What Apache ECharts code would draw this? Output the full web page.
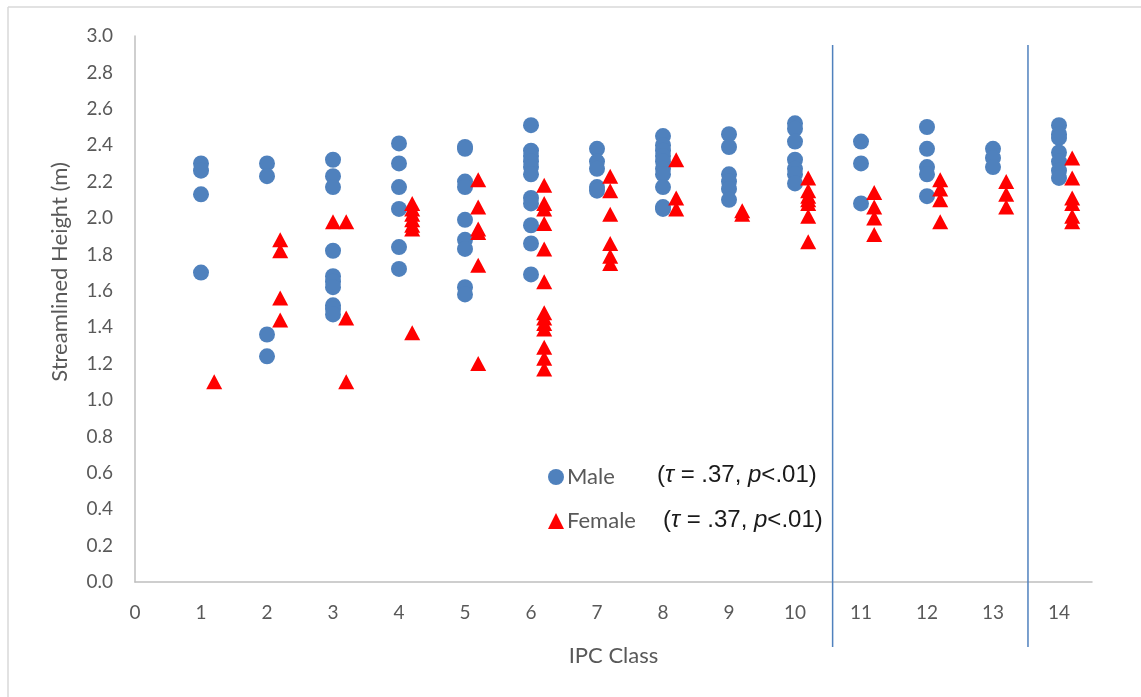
<!DOCTYPE html>
<html>
<head>
<meta charset="utf-8">
<script src="https://cdn.jsdelivr.net/npm/echarts@6/dist/echarts.min.js"></script>
<style>
html,body{margin:0;padding:0;background:#fff;}
#chart{width:1141px;height:697px;}
</style>
</head>
<body>
<div id="chart"></div>
<script>
// ---- data ----
const classes = [1,2,3,4,5,6,7,8,9,10,11,12,13,14];
const maleHeights = [
  [2.30, 2.26, 2.13, 1.70],
  [2.30, 2.23, 1.36, 1.24],
  [2.32, 2.23, 2.17, 1.82, 1.68, 1.65, 1.62, 1.52, 1.50, 1.47],
  [2.41, 2.30, 2.17, 2.05, 1.84, 1.72],
  [2.39, 2.38, 2.20, 2.17, 1.99, 1.88, 1.83, 1.62, 1.58],
  [2.51, 2.37, 2.34, 2.31, 2.28, 2.24, 2.11, 2.08, 1.96, 1.86, 1.69],
  [2.38, 2.31, 2.27, 2.17, 2.15],
  [2.45, 2.40, 2.37, 2.34, 2.31, 2.27, 2.24, 2.17, 2.06, 2.05],
  [2.46, 2.39, 2.24, 2.20, 2.16, 2.10],
  [2.52, 2.49, 2.42, 2.32, 2.27, 2.24, 2.19],
  [2.42, 2.30, 2.08],
  [2.50, 2.38, 2.28, 2.24, 2.12],
  [2.38, 2.33, 2.28],
  [2.51, 2.46, 2.44, 2.36, 2.31, 2.26, 2.22]
];
const femaleHeights = [
  [1.10],
  [1.88, 1.82, 1.56, 1.44],
  [1.98, 1.45, 1.10],
  [2.08, 2.05, 2.02, 1.99, 1.96, 1.94, 1.37],
  [2.21, 2.06, 1.94, 1.92, 1.74, 1.20],
  [2.18, 2.08, 2.05, 1.97, 1.83, 1.65, 1.48, 1.45, 1.42, 1.39, 1.29, 1.23, 1.17],
  [2.23, 2.15, 2.02, 1.86, 1.79, 1.75],
  [2.32, 2.11, 2.05],
  [2.04, 2.02],
  [2.22, 2.15, 2.12, 2.10, 2.08, 2.01, 1.87],
  [2.14, 2.06, 2.00, 1.91],
  [2.21, 2.16, 2.10, 1.98],
  [2.20, 2.13, 2.06],
  [2.33, 2.22, 2.11, 2.08, 2.01, 1.98]
];
const femaleOffset = 0.2;
const femaleExtra = [[3.0, 1.98]];
const xTicks = [0,1,2,3,4,5,6,7,8,9,10,11,12,13,14];
const dividerX = [10.57, 13.53];

// ---- build ----
const maleData = [];
classes.forEach((c, i) => maleHeights[i].forEach(v => maleData.push([c, v])));
const femaleData = [];
classes.forEach((c, i) => femaleHeights[i].forEach(v => femaleData.push([c + femaleOffset, v])));
femaleExtra.forEach(p => femaleData.push(p));

const grey = '#595959';
const font = 'Lato, "Open Sans", sans-serif';
const chart = echarts.init(document.getElementById('chart'), null, {renderer: 'canvas'});

const option = {
  animation: false,
  backgroundColor: '#fff',
  grid: {left: 135, right: 49, top: 36, bottom: 115, containLabel: false},
  xAxis: {
    type: 'value', min: 0, max: 14.5, interval: 1,
    name: 'IPC Class', nameLocation: 'middle', nameGap: 63,
    nameTextStyle: {color: grey, fontSize: 22, fontFamily: font},
    axisLine: {show: true, lineStyle: {color: '#bfbfbf', width: 1.5}},
    axisTick: {show: false},
    splitLine: {show: false},
    axisLabel: {color: grey, fontSize: 19, fontFamily: font, margin: 21,
      formatter: v => xTicks.indexOf(v) >= 0 ? String(v) : '', showMaxLabel: false}
  },
  yAxis: {
    type: 'value', min: 0, max: 3, interval: 0.2,
    axisLine: {show: true, lineStyle: {color: '#bfbfbf', width: 1.5}},
    axisTick: {show: false},
    splitLine: {show: false},
    axisLabel: {color: grey, fontSize: 19, fontFamily: font, margin: 22, formatter: v => v.toFixed(1)}
  },
  legend: {
    orient: 'vertical', left: 543, top: 461, itemGap: 22,
    itemWidth: 16, itemHeight: 16,
    textStyle: {color: grey, fontSize: 22, fontFamily: font, padding: [0,0,0,-2]},
    data: [{name: 'Male', icon: 'circle'}, {name: 'Female', icon: 'triangle'}]
  },
  series: [
    {name: 'Male', type: 'scatter', data: maleData, symbol: 'circle', symbolSize: 16,
     itemStyle: {color: '#4F81BD', opacity: 1}},
    {name: 'Female', type: 'scatter', data: femaleData, symbol: 'triangle', symbolSize: [16, 15],
     itemStyle: {color: '#FF0000', opacity: 1}}
  ]
};
chart.setOption(option);

function statRich(x, y) {
  const f = '"Liberation Sans", Arial, sans-serif';
  return {
    type: 'text', x: x, y: y, z: 10,
    style: {
      text: '{a|(}{i|τ}{a| = .37, }{i|p}{a|<.01)}',
      verticalAlign: 'middle',
      rich: {
        a: {fontFamily: f, fontSize: 24, fill: '#1a1a1a'},
        i: {fontFamily: f, fontSize: 24, fontStyle: 'italic', fill: '#1a1a1a'}
      }
    }
  };
}

const yTop = chart.convertToPixel({gridIndex: 0}, [0, 2.95])[1];
const yBase = chart.convertToPixel({gridIndex: 0}, [0, 0])[1];
const graphics = [
  {type: 'line', shape: {x1: 8, y1: 7, x2: 1141, y2: 7}, style: {stroke: '#d9d9d9', lineWidth: 1.5}},
  {type: 'line', shape: {x1: 8, y1: 7, x2: 8, y2: 697}, style: {stroke: '#d9d9d9', lineWidth: 1.5}},
  {type: 'text', x: 60, y: 272, rotation: Math.PI / 2,
   style: {text: 'Streamlined Height (m)', fontSize: 22, fontFamily: font, fill: grey,
           align: 'center', verticalAlign: 'middle'}},
  statRich(657, 475),
  statRich(663, 520)
];
dividerX.forEach(xv => {
  const px = chart.convertToPixel({gridIndex: 0}, [xv, 0])[0];
  graphics.push({type: 'line', z: 20, shape: {x1: px, y1: yTop, x2: px, y2: yBase + 65},
    style: {stroke: '#4F81BD', lineWidth: 1.5}});
});
chart.setOption({graphic: graphics});
</script>
</body>
</html>
